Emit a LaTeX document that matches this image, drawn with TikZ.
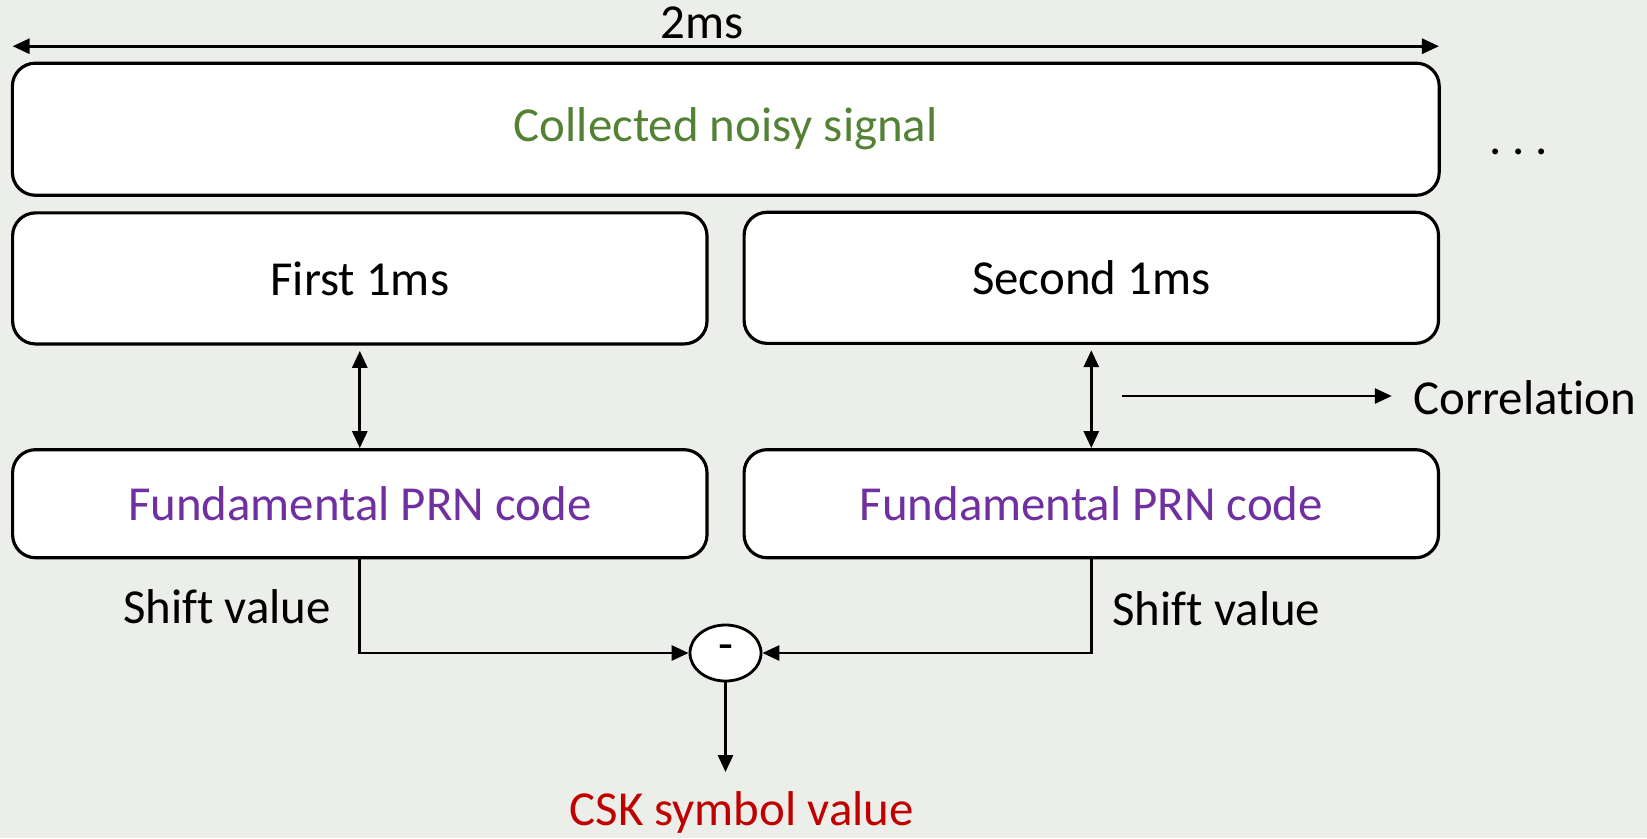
\documentclass[tikz,border=0pt]{standalone}
\usepackage{fontspec}
\setmainfont[Ligatures=NoCommon]{Carlito}
\usetikzlibrary{arrows.meta, shapes.geometric}
\definecolor{bgcol}{RGB}{236,238,233}
\definecolor{siggreen}{RGB}{84,130,53}
\definecolor{prnpurple}{RGB}{112,48,160}
\definecolor{cskred}{RGB}{192,0,0}
\tikzset{every picture/.style={x=0.01cm,y=-0.01cm,>={Triangle[length=1.7mm,width=1.5mm]}},
  box/.style={draw,line width=0.9pt,rounded corners=0.23cm,fill=white,inner sep=0pt,
    minimum width=6.94cm,minimum height=1.31cm,font=\fontsize{13.9}{16}\selectfont},
  lbl/.style={font=\fontsize{13.9}{16}\selectfont,inner sep=0pt},
  link/.style={line width=0.8pt}}

\begin{document}
\begin{tikzpicture}
            \fill[bgcol] (0,0) rectangle (1647,838);

            \node[lbl] (len) at (701.7,23) {2ms};
            \coordinate (la) at (12.6,46.2);
            \coordinate (ra) at (1439,46.2);
            \draw[link, <->] (la) -- (ra);

            \node[box, minimum width=14.26cm, minimum height=1.32cm, text=siggreen] (sig) at (725.8,129.2) {Collected noisy signal};
            \node[lbl] (dots) at (1518.7,152) {.\hspace{0.11cm}.\hspace{0.11cm}.};

            \node[box] (first) at (359.8,278.4) {First 1ms};
            \node[box] (second) at (1091.3,277.8) {Second 1ms};
            \node[box, minimum height=1.08cm, text=prnpurple] (prn1) at (359.8,503.7) {Fundamental PRN code};
            \node[box, minimum height=1.08cm, text=prnpurple] (prn2) at (1091.3,503.7) {Fundamental PRN code};

            \foreach \from/\to in {first/prn1, second/prn2}
              \draw[link, <->, shorten <=1.5pt] (\from.south) -- (\to.north);

            \coordinate (cs) at (1121.8,396);
            \node[lbl, anchor=west] (corr) at (1412.8,398) {Correlation};
            \draw[link, ->, shorten >=0.21cm] (cs) -- (corr.west |- cs);

            \node[draw, ellipse, line width=0.8pt, fill=white, inner sep=0pt, minimum width=0.71cm, minimum height=0.56cm,
              font=\fontsize{13.9}{16}\selectfont] (diff) at (725.5,653) {-};
            \node[lbl] (shl) at (226.9,607) {Shift value};
            \node[lbl] (shr) at (1216.4,609) {Shift value};
            \draw[link, ->] (prn1.south) |- (diff.west);
            \draw[link, ->] (prn2.south) |- (diff.east);

            \node[lbl, text=cskred] (csk) at (741.6,812) {CSK symbol value};
            \coordinate (out) at (725.5,772);
            \draw[link, ->] (diff.south) -- (out);
        \end{tikzpicture}
\end{document}
